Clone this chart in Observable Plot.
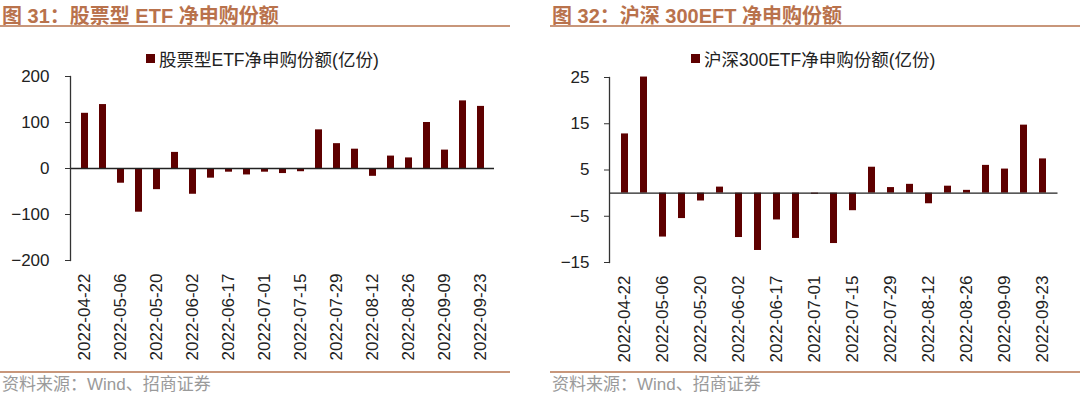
<!DOCTYPE html>
<html><head><meta charset="utf-8">
<script src="https://cdn.jsdelivr.net/npm/d3@7"></script>
<script src="https://cdn.jsdelivr.net/npm/@observablehq/plot@0.6"></script>
<style>
html,body{margin:0;padding:0;background:#fff;}
#root{position:relative;width:1080px;height:396px;overflow:hidden;font-family:"Liberation Sans","Noto Sans CJK SC",sans-serif;}
.panel{position:absolute;top:0;width:540px;height:396px;}
.title{position:absolute;top:0px;font-size:20px;font-weight:bold;color:#b9724c;white-space:nowrap;font-family:"Liberation Sans","Noto Sans CJK SC",sans-serif;}
.rule{position:absolute;height:2px;background:#c8967a;}
.legend{position:absolute;top:46px;font-size:17.5px;color:#222;white-space:nowrap;display:flex;align-items:center;}
.legend .sw{display:inline-block;width:9px;height:9px;background:#5e0000;margin-right:4px;}
.chart{position:absolute;top:66px;left:0;}
.source{position:absolute;top:376px;font-size:17px;line-height:18px;color:#9a9a9a;white-space:nowrap;}
</style></head>
<body><div id="root"></div>
<script>
const dates = ["2022-04-22","2022-04-29","2022-05-06","2022-05-13","2022-05-20","2022-05-27","2022-06-02","2022-06-10","2022-06-17","2022-06-24","2022-07-01","2022-07-08","2022-07-15","2022-07-22","2022-07-29","2022-08-05","2022-08-12","2022-08-19","2022-08-26","2022-09-02","2022-09-09","2022-09-16","2022-09-23"];
const stockEtf = [120,139,-32,-95,-46,35,-56,-21,-8,-14,-8,-11,-7,84,54,42,-17,27,23,100,40,147,135];
const hs300Etf = [12.8,25.1,-9.5,-5.5,-1.7,1.3,-9.6,-12.4,-5.8,-9.8,-0.25,-10.9,-3.8,5.6,1.2,1.9,-2.3,1.5,0.6,6.0,5.2,14.7,7.4];
const leftTicks = [-200,-100,0,100,200];
const rightTicks = [-15,-5,5,15,25];
const titles = ["图 31：股票型 ETF 净申购份额","图 32：沪深 300EFT 净申购份额"];
const legends = ["股票型ETF净申购份额(亿份)","沪深300ETF净申购份额(亿份)"];
const source = "资料来源：Wind、招商证券";
const labelDates = dates.filter((d,i)=>i%2===0);

const root = document.getElementById("root");

function makePanel(cfg){
  const p = document.createElement("div");
  p.className="panel"; p.style.left=cfg.left+"px";
  const t = document.createElement("div"); t.className="title"; t.style.left=cfg.titleX+"px"; t.textContent=cfg.title; p.appendChild(t);
  const r1 = document.createElement("div"); r1.className="rule"; r1.style.top="25px"; r1.style.left=cfg.ruleL+"px"; r1.style.width=cfg.ruleW+"px"; p.appendChild(r1);
  const lg = document.createElement("div"); lg.className="legend"; lg.style.left=cfg.legendX+"px";
  lg.innerHTML = '<span class="sw"></span><span>'+cfg.legend+'</span>'; p.appendChild(lg);
  const data = dates.map((d,i)=>({date:d, value:cfg.values[i]}));
  const chart = Plot.plot({
    width:540, height:304,
    marginLeft:cfg.ml, marginRight:cfg.mr, marginTop:cfg.mt, marginBottom:cfg.mb,
    style:{fontFamily:"Liberation Sans, Arial, sans-serif", fontSize:"17px", color:"#222", background:"transparent", overflow:"visible"},
    x:{type:"band", domain:dates, paddingInner:cfg.pi, paddingOuter:cfg.pi/2, label:null},
    y:{domain:cfg.domain, label:null},
    marks:[
      Plot.barY(data,{x:"date", y:"value", fill:"#5e0000"}),
      Plot.ruleY([0],{stroke:"#222", strokeWidth:1.3}),
      Plot.axisY({ticks:cfg.ticks, tickSize:5, tickPadding:cfg.tp, stroke:"#333", fontSize:17, label:null}),
      Plot.frame({anchor:"left", stroke:"#333", strokeWidth:1.3}),
      Plot.axisX({ticks:labelDates, tickSize:0, tickPadding:13, tickRotate:-90, fontSize:17, label:null})
    ]
  });
  chart.classList.add("chart");
  p.appendChild(chart);
  const r2 = document.createElement("div"); r2.className="rule"; r2.style.top="371px"; r2.style.left=cfg.ruleL+"px"; r2.style.width=cfg.ruleW+"px"; p.appendChild(r2);
  const s = document.createElement("div"); s.className="source"; s.style.left=cfg.titleX+"px"; s.textContent=source; p.appendChild(s);
  root.appendChild(p);
}

makePanel({left:0, titleX:2, ruleL:0, ruleW:510, title:titles[0], legend:legends[0], legendX:146,
  values:stockEtf, domain:[-200,200], ticks:leftTicks, ml:70, mr:46, mt:10, mb:110, pi:0.62, tp:16});
makePanel({left:540, titleX:12, ruleL:10, ruleW:530, title:titles[1], legend:legends[1], legendX:151,
  values:hs300Etf, domain:[-15,25], ticks:rightTicks, ml:69, mr:22.5, mt:11, mb:108, pi:0.64, tp:15});
</script></body></html>
